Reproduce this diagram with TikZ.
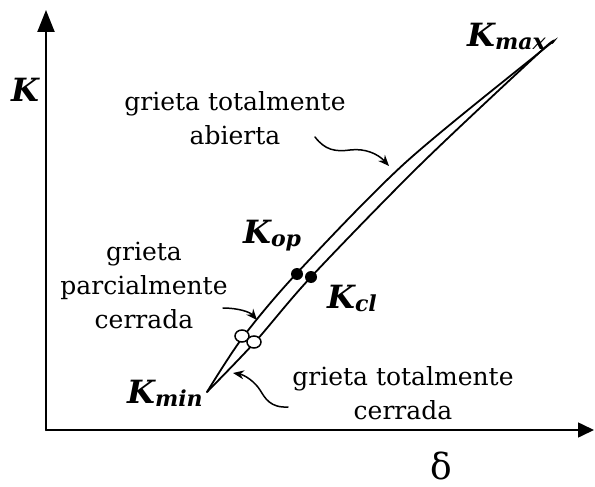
\documentclass[tikz,border=0pt]{standalone}
\usepackage{fontspec}
\setmainfont{DejaVu Serif}
\usetikzlibrary{arrows.meta}
\newcommand\Klab[1]{{\fontsize{32}{32}\selectfont\bfseries\itshape K}{\fontsize{22}{22}\selectfont\bfseries\itshape\raisebox{-3pt}{#1}}}
\begin{document}
\begin{tikzpicture}[x=1pt,y=-1pt,line cap=round,
  txt/.style={font=\fontsize{25}{34}\selectfont, align=center, inner sep=0pt},
  klab/.style={anchor=base west, inner sep=0pt},
  vaxis/.style={line width=2.2pt, -{Triangle[length=22pt,width=17pt]}},
  haxis/.style={line width=1.6pt, -{Triangle[length=16pt,width=15pt]}},
  branch/.style={line width=1.8pt},
  curly/.style={line width=1.5pt, -{Stealth[length=11pt,width=9pt]}},
  hollow/.style={draw, fill=white, line width=1.5pt},
  solid dot/.style={fill=black}]
\useasboundingbox (0,0) rectangle (595,487);
% axes
\coordinate (O) at (46,430);
\coordinate (Ytip) at (46,10);
\coordinate (Xtip) at (594,430);
\draw[vaxis] (O) -- (Ytip);
\draw[haxis] (O) -- (Xtip);
% loop
\coordinate (Kminpt) at (207,392);
\coordinate (Kmaxpt) at (552,43);
\draw[branch] plot[smooth, tension=0.5] coordinates {(207,392) (243,337) (297,273) (405,163) (540,52) (552,43)};
\draw[branch] plot[smooth, tension=0.5] coordinates {(207,392) (255,342) (311,277) (420,165) (540,52) (552,43)};
% markers
\draw[hollow] (242,336) ellipse [x radius=7pt, y radius=6pt];
\draw[hollow] (254,342) ellipse [x radius=7pt, y radius=6pt];
\fill[solid dot] (297,274) circle [radius=6pt];
\fill[solid dot] (311,277) circle [radius=6pt];
% curly arrows
\coordinate (a1s) at (315,137);
\coordinate (a1e) at (389,166);
\draw[curly] (a1s) .. controls (325,150) and (335,152) .. (350,150) .. controls (365,148) and (378,154) .. (a1e);
\coordinate (a2s) at (223,308);
\coordinate (a2e) at (257,320);
\draw[curly] (a2s) .. controls (238,308) and (250,312) .. (a2e);
\coordinate (a3s) at (288,407);
\coordinate (a3e) at (233,373);
\draw[curly] (a3s) .. controls (270,408) and (265,398) .. (260,390) .. controls (255,382) and (245,375) .. (a3e);
% texts
\node[txt] (t1) at (235,118) {grieta totalmente\\abierta};
\node[txt] (t2) at (144,285) {grieta\\parcialmente\\cerrada};
\node[txt] (t3) at (403,393) {grieta totalmente\\cerrada};
\node[inner sep=0pt] (kax) at (25,90) {\fontsize{32}{32}\selectfont\bfseries\itshape K};
\node[inner sep=0pt] (delta) at (441,466) {\fontsize{36}{36}\selectfont δ};
\node[klab] (kmax) at (467,47) {\Klab{max}};
\node[klab] (kop) at (243,243) {\Klab{op}};
\node[klab] (kcl) at (327,308) {\Klab{cl}};
\node[klab] (kmin) at (127,403) {\Klab{min}};
\end{tikzpicture}
\end{document}
